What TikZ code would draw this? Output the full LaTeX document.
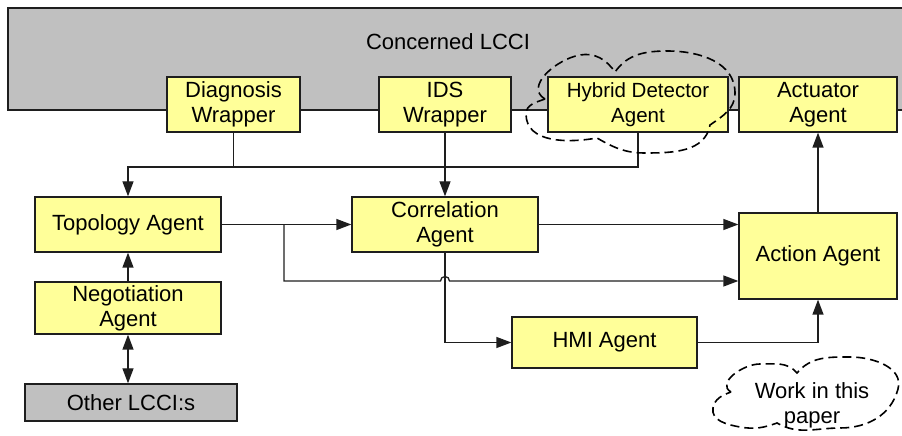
\documentclass[tikz,border=0pt]{standalone}
\usepackage{fontspec}
\setmainfont{Liberation Sans}
\usetikzlibrary{arrows.meta,calc}
\definecolor{boxyellow}{RGB}{255,255,153}
\definecolor{boxgray}{RGB}{192,192,192}
\definecolor{linecol}{RGB}{30,30,30}
\begin{document}
\begin{tikzpicture}[x=1pt,y=1pt,
  ybox/.style={draw=linecol,line width=1.3pt,fill=boxyellow,align=center,inner sep=0pt,
    font=\fontsize{22}{25}\selectfont},
  gbox/.style={draw=linecol,line width=1.3pt,fill=boxgray,align=center,inner sep=0pt,
    font=\fontsize{22}{25}\selectfont},
  ln/.style={draw=linecol,line width=1.3pt},
  arr/.style={ln,-{Triangle[length=15pt,width=11pt]}},
  darr/.style={ln,{Triangle[length=15pt,width=11pt]}-{Triangle[length=15pt,width=11pt]}},
  cloudline/.style={draw=black,line width=1.6pt,dash pattern=on 9pt off 5pt}
]
\useasboundingbox (0,0) rectangle (902,436);
% big LCCI box
\path[draw=linecol,line width=1.3pt,fill=boxgray] (8,326) rectangle (915,428);
\node[font=\fontsize{22}{25}\selectfont] (lcci) at (448,394) {Concerned LCCI};
% boxes
\node[ybox,minimum width=133pt,minimum height=55pt] (diag) at (233.5,331.5) {Diagnosis\\Wrapper};
\node[ybox,minimum width=132pt,minimum height=55pt] (ids) at (445,331.5) {IDS\\Wrapper};
\node[ybox,minimum width=180pt,minimum height=55pt,font=\fontsize{20.5}{25}\selectfont] (hyb) at (638,331.5) {Hybrid Detector\\Agent};
\node[ybox,minimum width=158pt,minimum height=55pt] (actu) at (818,331.5) {Actuator\\Agent};
\node[ybox,minimum width=186pt,minimum height=55pt] (tp) at (128,211.5) {Topology Agent};
\node[ybox,minimum width=186pt,minimum height=52pt] (neg) at (128,128) {Negotiation\\Agent};
\node[gbox,minimum width=212pt,minimum height=37pt] (oth) at (131,33.5) {Other LCCI:s};
\node[ybox,minimum width=186pt,minimum height=55pt] (cor) at (445,211.5) {Correlation\\Agent};
\node[ybox,minimum width=158pt,minimum height=86pt] (act) at (818,180) {Action Agent};
\node[ybox,minimum width=185pt,minimum height=51pt] (hmi) at (604.5,93.5) {HMI Agent};
% helper coordinates
\coordinate (busY) at (0,269);
\coordinate (br) at (284,211.5);
\coordinate (lowY) at (0,155);
% connectors
\draw[ln] (diag.south) -- (diag.south |- busY);
\draw[arr] (hyb.south) |- (tp.north |- busY) -- (tp.north);
\draw[arr] (ids.south) -- (cor.north);
\draw[arr] (tp.east) -- (cor.west);
\draw[arr] (br) -- (br |- lowY) -- ([xshift=-4.5pt]cor.south |- lowY)
  arc[start angle=180,end angle=0,radius=4.5pt] -- (act.west |- lowY);
\draw[arr] (cor.east) -- (cor.east -| act.west);
\draw[arr] (cor.south) |- (hmi.west);
\draw[arr] (hmi.east) -| (act.south);
\draw[arr] (act.north) -- (actu.south);
\draw[arr] (neg.north) -- (tp.south);
\draw[darr] (neg.south) -- (neg.south |- oth.north);
% cloud around Hybrid Detector Agent
\draw[cloudline] (545,337) to[out=150,in=190,looseness=1.1] (580,381) to[out=10,in=125] (615,364)
  to[out=55,in=180] (668,385) to[out=0,in=90] (735,343) to[out=-90,in=35] (710,311)
  to[out=-100,in=0] (645,283) to[out=180,in=-30] (597,298)
  to[out=190,in=-90] (526,322) to[out=90,in=200] cycle;
% cloud with text
\draw[cloudline] (731,44) to[out=150,in=180,looseness=1.1] (760,72) to[out=0,in=130] (797,63)
  to[out=50,in=180] (850,79) to[out=0,in=75] (898,47) to[out=-105,in=0] (840,8)
  to[out=180,in=-30] (777,13) to[out=200,in=-10] (740,9)
  to[out=170,in=-100] (713,28) to[out=80,in=200] cycle;
\node[align=center,font=\fontsize{22}{25}\selectfont] (work) at (812,31) {Work in this\\paper};
\end{tikzpicture}
\end{document}
